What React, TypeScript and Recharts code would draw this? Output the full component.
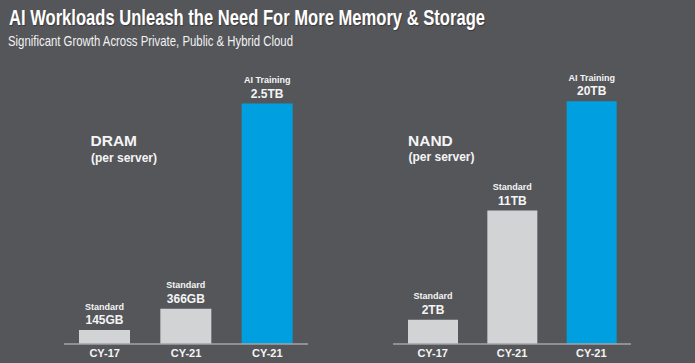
import React from "react";
import { BarChart, Bar, XAxis, YAxis, Cell, LabelList } from "recharts";

const FONT = "'Liberation Sans', Arial, sans-serif";
const BG = "#55565a";
const GREY = "#d2d3d5";
const BLUE = "#009fe0";

// DRAM per server (GB)
const dramYears = ["CY-17", "CY-21", "CY-21"];
const dramValues = [145, 366, 2500];
const dramKinds = ["Standard", "Standard", "AI Training"];
const dramText = ["145GB", "366GB", "2.5TB"];

// NAND per server (TB)
const nandYears = ["CY-17", "CY-21", "CY-21"];
const nandValues = [2, 11, 20];
const nandKinds = ["Standard", "Standard", "AI Training"];
const nandText = ["2TB", "11TB", "20TB"];

const build = (years: string[], values: number[], kinds: string[], text: string[]) =>
  years.map((year, i) => ({ key: i, year, value: values[i], kind: kinds[i], text: text[i] }));

const dramData = build(dramYears, dramValues, dramKinds, dramText);
const nandData = build(nandYears, nandValues, nandKinds, nandText);

function YearTick(props: any) {
  const { x, y, payload, years } = props;
  return (
    <text
      x={x}
      y={y + 9}
      textAnchor="middle"
      dominantBaseline="central"
      fill="#f4f4f4"
      fontFamily={FONT}
      fontWeight="bold"
      fontSize={11}
    >
      {years[payload.index] ?? payload.value}
    </text>
  );
}

function makeLabel(kinds: string[], text: string[]) {
  return (props: any) => {
    const { x, y, width, index } = props;
    const cx = x + width / 2;
    return (
      <g>
        <text
          x={cx}
          y={y - 23.5}
          textAnchor="middle"
          dominantBaseline="central"
          fill="#f4f4f4"
          fontFamily={FONT}
          fontWeight="bold"
          fontSize={9}
        >
          {kinds[index]}
        </text>
        <text
          x={cx}
          y={y - 10}
          textAnchor="middle"
          dominantBaseline="central"
          fill="#f4f4f4"
          fontFamily={FONT}
          fontWeight="bold"
          fontSize={12}
        >
          {text[index]}
        </text>
      </g>
    );
  };
}

function Panel(props: {
  data: any[];
  years: string[];
  kinds: string[];
  text: string[];
  max: number;
  left: number;
  width: number;
  ml: number;
  mr: number;
  barSize: number;
}) {
  const { data, years, kinds, text, max, left, width, ml, mr, barSize } = props;
  return (
    <div style={{ position: "absolute", left, top: 0 }}>
      <BarChart
        width={width}
        height={363}
        data={data}
        margin={{ top: 94, right: mr, bottom: 2, left: ml }}
      >
        <XAxis
          dataKey="key"
          type="category"
          height={17}
          axisLine={{ stroke: "#a4a5a8", strokeWidth: 1.5 }}
          tickLine={false}
          tickSize={0}
          tickMargin={0}
          interval={0}
          tick={<YearTick years={years} />}
        />
        <YAxis hide domain={[0, max]} type="number" />
        <Bar dataKey="value" barSize={barSize} isAnimationActive={false}>
          {data.map((d, i) => (
            <Cell key={i} fill={i === data.length - 1 ? BLUE : GREY} />
          ))}
          <LabelList dataKey="value" content={makeLabel(kinds, text)} />
        </Bar>
      </BarChart>
    </div>
  );
}

export default function App() {
  return (
    <div
      style={{
        position: "fixed",
        left: 0,
        top: 0,
        width: 695,
        height: 363,
        background: BG,
        overflow: "hidden",
      }}
    >
      <Panel
        data={dramData}
        years={dramYears}
        kinds={dramKinds}
        text={dramText}
        max={2600}
        left={0}
        width={340}
        ml={64}
        mr={32}
        barSize={51}
      />
      <Panel
        data={nandData}
        years={nandYears}
        kinds={nandKinds}
        text={nandText}
        max={20.6}
        left={360}
        width={300}
        ml={33}
        mr={29}
        barSize={50}
      />
      <svg
        width={695}
        height={363}
        style={{ position: "absolute", left: 0, top: 0, pointerEvents: "none" }}
      >
        <text
          x={9}
          y={25}
          fill="#ffffff"
          fontFamily={FONT}
          fontWeight="bold"
          fontSize={22}
          textLength={476}
          lengthAdjust="spacingAndGlyphs"
          style={{ textShadow: "1px 1px 1px rgba(0,0,0,0.35)" }}
        >
          AI Workloads Unleash the Need For More Memory &amp; Storage
        </text>
        <text
          x={8}
          y={45.5}
          fill="#f2f2f2"
          fontFamily={FONT}
          fontSize={15}
          textLength={285}
          lengthAdjust="spacingAndGlyphs"
        >
          Significant Growth Across Private, Public &amp; Hybrid Cloud
        </text>
        <text x={90.5} y={145.5} fill="#f4f4f4" fontFamily={FONT} fontWeight="bold" fontSize={15.5}>
          DRAM
        </text>
        <text x={91} y={162} fill="#f4f4f4" fontFamily={FONT} fontWeight="bold" fontSize={12}>
          (per server)
        </text>
        <text x={408} y={145.5} fill="#f4f4f4" fontFamily={FONT} fontWeight="bold" fontSize={15.5}>
          NAND
        </text>
        <text x={408.5} y={161} fill="#f4f4f4" fontFamily={FONT} fontWeight="bold" fontSize={12}>
          (per server)
        </text>
      </svg>
    </div>
  );
}
